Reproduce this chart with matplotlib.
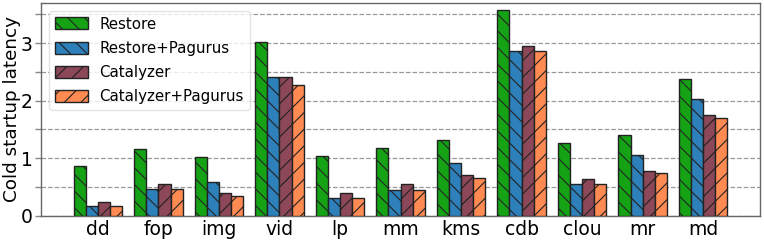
import matplotlib
matplotlib.use("Agg")
import matplotlib.pyplot as plt
import numpy as np
from matplotlib.ticker import MultipleLocator

categories = ["dd", "fop", "img", "vid", "lp", "mm", "kms", "cdb", "clou", "mr", "md"]
restore = [0.87, 1.16, 1.02, 3.02, 1.03, 1.17, 1.31, 3.57, 1.26, 1.40, 2.38]
restore_pagurus = [0.16, 0.46, 0.59, 2.42, 0.31, 0.45, 0.92, 2.87, 0.55, 1.05, 2.03]
catalyzer = [0.24, 0.55, 0.39, 2.41, 0.40, 0.55, 0.70, 2.95, 0.63, 0.78, 1.75]
catalyzer_pagurus = [0.16, 0.46, 0.34, 2.27, 0.31, 0.45, 0.65, 2.87, 0.55, 0.74, 1.70]
series_names = ["Restore", "Restore+Pagurus", "Catalyzer", "Catalyzer+Pagurus"]

plt.rcParams['hatch.linewidth'] = 0.8
fig = plt.figure(figsize=(7.64, 2.42), dpi=100)
ax = fig.add_axes([0.0537, 0.1087, 0.9411, 0.8789])

colors = ["#15a315", "#2e80ba", "#8c4858", "#ff8a52"]
hatches = ["\\\\", "\\\\", "//", "//"]
series = [restore, restore_pagurus, catalyzer, catalyzer_pagurus]
x = np.arange(len(categories))
w = 0.2
for i, (vals, name) in enumerate(zip(series, series_names)):
    ax.bar(x + (i - 1.5) * w, vals, w, color=colors[i], edgecolor="#222222",
           linewidth=1.0, hatch=hatches[i], label=name, zorder=3)

ax.set_ylim(0, 3.7)
ax.yaxis.set_major_locator(MultipleLocator(1))
ax.yaxis.set_minor_locator(MultipleLocator(0.5))
ax.grid(axis="y", which="both", linestyle="--", color="#999999", linewidth=0.9, zorder=0)
ax.set_axisbelow(True)
ax.set_xticks(x)
ax.set_xticklabels(categories, fontsize=13.5)
ax.tick_params(axis="x", length=0, pad=3)
ax.tick_params(axis="y", which="both", labelsize=13.5, length=4, pad=2,
               color="#888888", width=1)
ax.set_ylabel("Cold startup latency", fontsize=13.2, labelpad=0)
for s in ax.spines.values():
    s.set_color("#666666")
    s.set_linewidth(1.0)

ax.legend(loc="upper left", fontsize=10.8, framealpha=0.8, edgecolor="#dddddd",
          handlelength=2.2, handleheight=0.85, handletextpad=0.8,
          labelspacing=0.62, borderaxespad=0.5)

fig.savefig("out.png", dpi=100)
